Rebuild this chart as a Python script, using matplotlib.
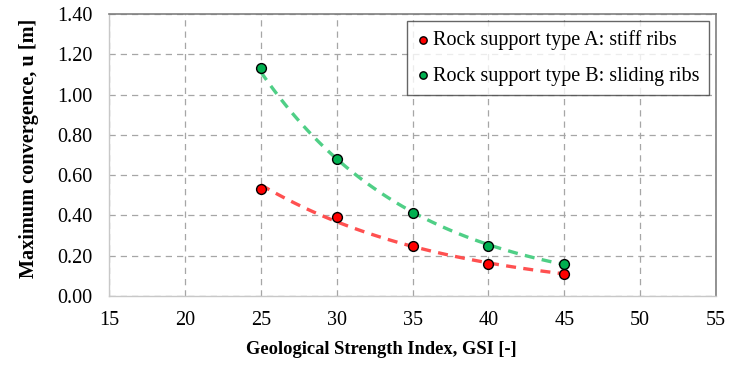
import matplotlib
matplotlib.use("Agg")
import matplotlib.pyplot as plt
import numpy as np

gsi = [25, 30, 35, 40, 45]
conv_a = [0.53, 0.39, 0.25, 0.16, 0.11]
conv_b = [1.13, 0.68, 0.41, 0.25, 0.16]
label_a = "Rock support type A: stiff ribs"
label_b = "Rock support type B: sliding ribs"

plt.rcParams["font.family"] = ["Liberation Serif", "DejaVu Serif"]

fig = plt.figure(figsize=(7.39, 3.66), dpi=100)
ax = fig.add_axes([109 / 739, 1 - 296 / 366, (716 - 109) / 739, (296 - 14) / 366])


def exp_trend(x, y):
    """Exponential trendline (like a spreadsheet's exponential fit)."""
    k, c = np.polyfit(x, np.log(y), 1)
    xs = np.linspace(min(x), max(x), 100)
    return xs, np.exp(c + k * xs)


xs, ys = exp_trend(gsi, conv_b)
ax.plot(xs, ys, linestyle=(0, (3, 2.2)), color="#4fcf86", linewidth=2.4, zorder=3)
xs, ys = exp_trend(gsi, conv_a)
ax.plot(xs, ys, linestyle=(0, (3, 2.2)), color="#ff5050", linewidth=2.4, zorder=3)

ax.scatter(gsi, conv_a, s=50, color="#ff0000", edgecolor="black", linewidth=1.0, zorder=4, label=label_a)
ax.scatter(gsi, conv_b, s=50, color="#00b050", edgecolor="black", linewidth=1.0, zorder=4, label=label_b)

ax.set_xlim(15, 55)
ax.set_ylim(0, 1.4)
ax.set_xticks(np.arange(15, 56, 5))
ax.set_yticks(np.arange(0, 1.41, 0.2))
ax.set_yticklabels([f"{v:.2f}" for v in np.arange(0, 1.41, 0.2)])
ax.tick_params(length=0, labelsize=14.5)
ax.tick_params(axis="y", pad=12)
ax.tick_params(axis="x", pad=11)
ax.grid(True, linestyle=(0, (5, 4)), color="#a6a6a6", linewidth=0.9)
ax.set_axisbelow(True)

for side in ["top", "right"]:
    ax.spines[side].set_color("#7f7f7f")
    ax.spines[side].set_linewidth(1.2)
for side in ["left", "bottom"]:
    ax.spines[side].set_color("#c8c8c8")
    ax.spines[side].set_linewidth(1.0)

ax.set_xlabel("Geological Strength Index, GSI [-]", fontsize=13.3, fontweight="bold")
ax.set_ylabel("Maximum convergence, u [m]", fontsize=14.6, fontweight="bold")
ax.xaxis.set_label_coords(0.448, -0.158)
ax.yaxis.set_label_coords(-0.115, 0.523)

leg = ax.legend(loc="upper right", bbox_to_anchor=(709 / 739, 1 - 21 / 366),
                bbox_transform=fig.transFigure, borderaxespad=0, fontsize=14.5, frameon=True,
                fancybox=False, edgecolor="#404040", handletextpad=0.15, handlelength=0.7,
                markerscale=0.75, borderpad=0.45, labelspacing=0.83)
leg.get_frame().set_linewidth(1.0)

fig.savefig("out.png", dpi=100)
